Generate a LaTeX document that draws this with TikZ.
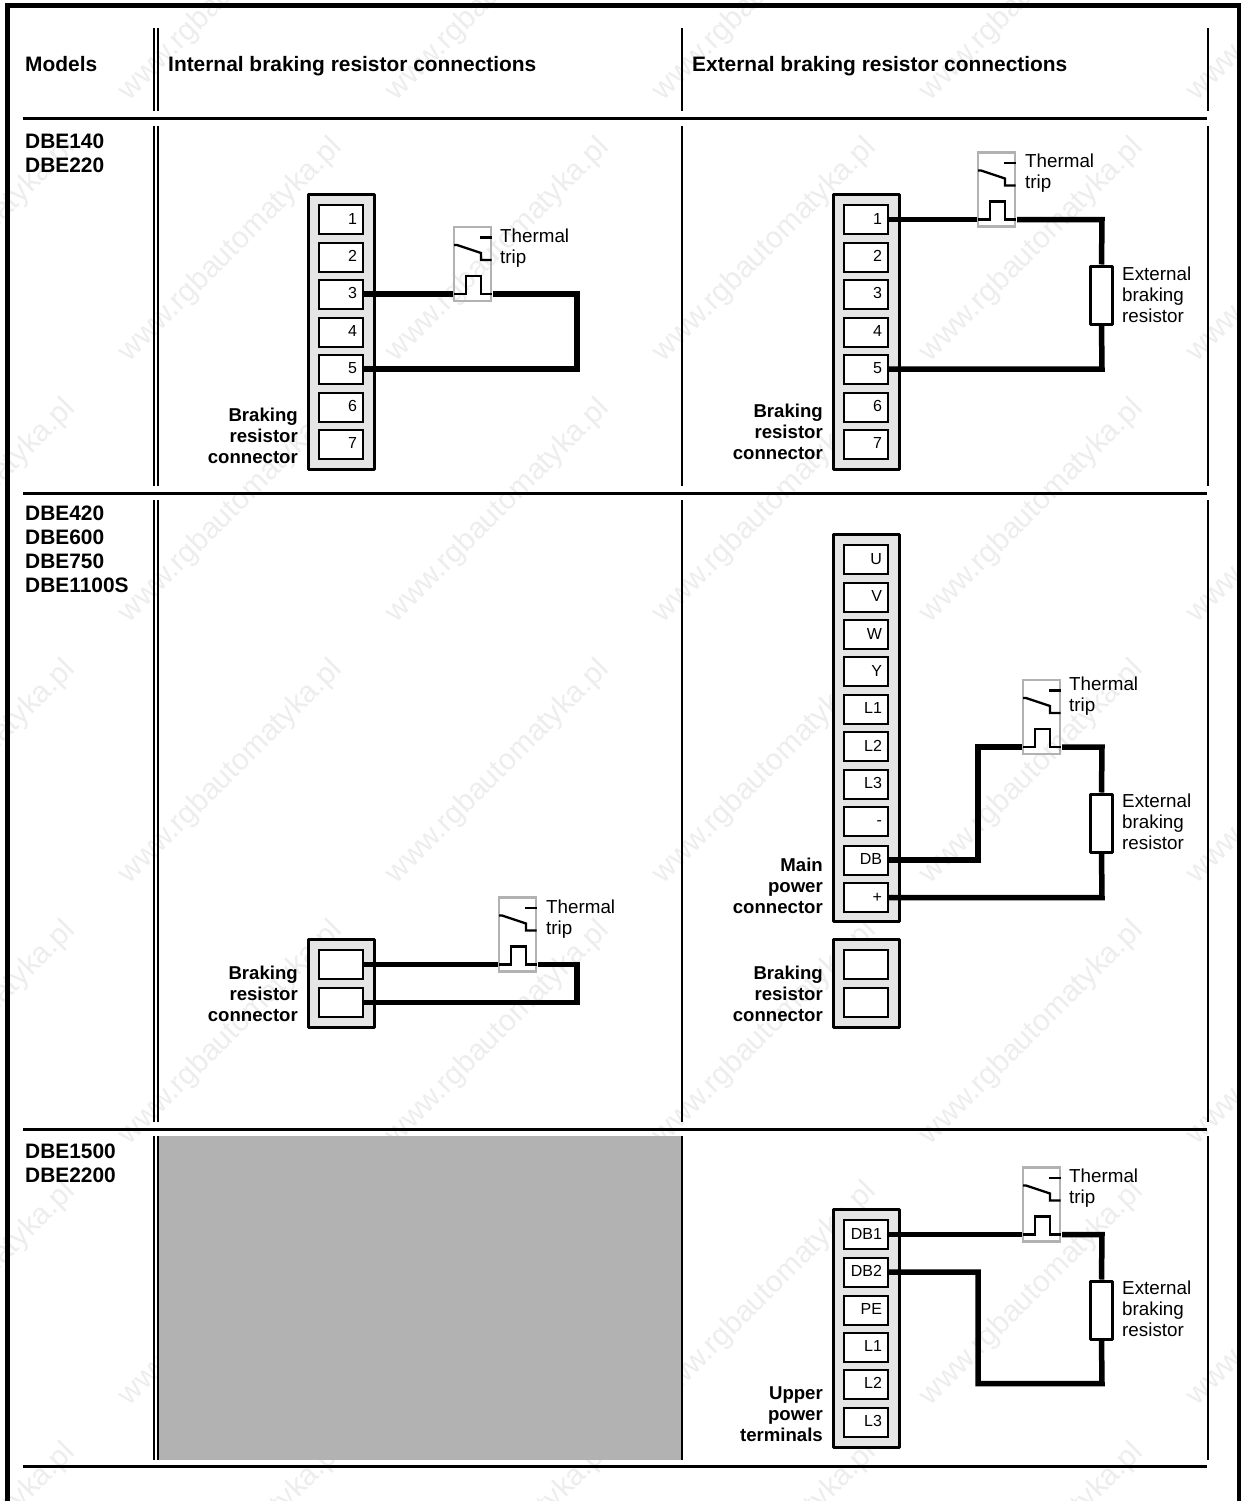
\documentclass[tikz,border=0pt]{standalone}
\usepackage{fontspec}
\setmainfont{Liberation Sans}
\definecolor{watermark}{gray}{0.93}
\definecolor{connfill}{gray}{0.9}
\definecolor{tripgrey}{gray}{0.7}
\definecolor{panelgrey}{gray}{0.7}
\tikzset{
  pics/thermal trip/.style={code={
    \node[trip node] (-box) at (19.5,38) {};
    \coordinate (-in) at (0,68);
    \coordinate (-out) at (40,68);
    \draw[contact] (27,11.5) -- (38.5,11.5);
    \draw[contact] (1,19) -- (4,19) -- (28,27) -- (28,34) -- (38.5,34);
    \draw[contact] (1,68) -- (13,68) -- (13,50) -- (28,50) -- (28,68) -- (38.5,68);
  }}
}

\begin{document}
\begin{tikzpicture}[x=1pt,y=-1pt,inner sep=0pt,
                    frame/.style={line width=5pt},
                    rule/.style={line width=3pt},
                    column/.style={line width=2pt},
                    wire/.style={line width=5.5pt},
                    contact/.style={line width=2.3pt},
                    conn node/.style={draw,line width=3pt,line join=round,fill=connfill,minimum width=66pt},
                    term node/.style={draw,line width=2pt,fill=white,minimum height=29pt,text width=32pt,
                                      text height=11pt,text depth=2pt,
                                      inner xsep=6pt,align=right,font=\fontsize{16pt}{18pt}\selectfont},
                    trip node/.style={draw=tripgrey,line width=2.5pt,minimum width=37pt,minimum height=74pt},
                    res node/.style={draw,line width=3pt,line join=round,fill=white,minimum width=22pt,minimum height=58pt},
                    head node/.style={anchor=base west,font=\fontsize{20.9pt}{24pt}\selectfont\bfseries},
                    model node/.style={anchor=north west,align=left,font=\fontsize{20.9pt}{24pt}\selectfont\bfseries},
                    conn label/.style={anchor=east,align=right,font=\fontsize{18.6pt}{21pt}\selectfont\bfseries},
                    part label/.style={anchor=west,align=left,font=\fontsize{18.8pt}{21pt}\selectfont},
                    mark node/.style={rotate=45,text=watermark,font=\fontsize{30pt}{30pt}\selectfont}]

  \useasboundingbox (0,0) rectangle (1240,1501);

  % watermark
  \begin{scope}
    \clip (0,0) rectangle (1240,1501);
    \foreach \cx in {-36,231,498,765,1032,1299}
      \foreach \cy in {-11,250,511,772,1033,1294,1555}
        \node[mark node] (w\cx\cy) at (\cx,\cy) {www.rgbautomatyka.pl};
  \end{scope}

  \fill[panelgrey] (159,1136) rectangle (682,1460);

  % table
  \draw[frame] (7.5,1501) -- (7.5,5.5) -- (1239,5.5) -- (1239,1501);
  \foreach \ry in {118.5,493,1129,1466}
    \draw[rule] (23,\ry) -- (1207,\ry);
  \foreach \ya/\yb in {28/111,126/486,500/1122,1136/1460} {
    \draw[column] (154.2,\ya) -- (154.2,\yb);
    \draw[column] (158,\ya) -- (158,\yb);
    \draw[column] (682,\ya) -- (682,\yb);
    \draw[column] (1207.5,\ya) -- (1207.5,\yb);
  }

  \node[head node] (hmodels) at (25,72) {Models};
  \node[head node] (hint) at (168,72) {Internal braking resistor connections};
  \node[head node] (hext) at (692,72) {External braking resistor connections};

  \node[model node] (m1) at (25,133.5) {DBE140\\DBE220};
  \node[model node] (m2) at (25,505.5) {DBE420\\DBE600\\DBE750\\DBE1100S};
  \node[model node] (m3) at (25,1143.5) {DBE1500\\DBE2200};

  % DBE140, internal
  \node[conn node,minimum height=275pt] (ca) at (341.5,332) {};
  \foreach \n/\y in {1/219.5,2/257,3/294,4/332,5/369,6/407,7/444}
    \node[term node] (a\n) at (341,\y) {\n};
  \pic (tripa) at (453,226) {thermal trip};
  \coordinate (ca1) at (577,294);
  \coordinate (ca2) at (577,369);
  \draw[wire] (a3.east) -- (tripa-in);
  \draw[wire] (tripa-out) -- (ca1) -- (ca2) -- (a5.east);
  \node[part label] (la) at (500,248) {Thermal\\trip};
  \node[conn label] (lca) at (298,436) {Braking\\resistor\\connector};

  % DBE140, external
  \node[conn node,minimum height=275pt] (cb) at (866.5,332) {};
  \foreach \n/\y in {1/219.5,2/257,3/294,4/332,5/369,6/407,7/444}
    \node[term node] (b\n) at (866,\y) {\n};
  \pic (tripb) at (977,151.5) {thermal trip};
  \node[res node] (resb) at (1101.5,295) {};
  \coordinate (cb1) at (1102,219.5);
  \coordinate (cb2) at (1102,369);
  \draw[wire] (b1.east) -- (tripb-in);
  \draw[wire] (tripb-out) -- (cb1) -- (resb.north);
  \draw[wire] (resb.south) -- (cb2) -- (b5.east);
  \node[part label] (lb) at (1025,173) {Thermal\\trip};
  \node[part label] (lrb) at (1122,294.5) {External\\braking\\resistor};
  \node[conn label] (lcb) at (823,432) {Braking\\resistor\\connector};

  % DBE420, internal
  \node[conn node,minimum height=88pt] (cc) at (341.5,983.5) {};
  \node[term node] (c1) at (341,964.5) {};
  \node[term node] (c2) at (341,1002.5) {};
  \pic (tripc) at (498,896.5) {thermal trip};
  \coordinate (cc1) at (577,964.5);
  \coordinate (cc2) at (577,1002.5);
  \draw[wire] (c1.east) -- (tripc-in);
  \draw[wire] (tripc-out) -- (cc1) -- (cc2) -- (c2.east);
  \node[part label] (lc) at (546,919) {Thermal\\trip};
  \node[conn label] (lcc) at (298,994) {Braking\\resistor\\connector};

  % DBE420, external
  \node[conn node,minimum height=387pt] (cd) at (866.5,728) {};
  \foreach \n/\l/\y in {1/U/559.5,2/V/597,3/W/634.5,4/Y/671.5,5/L1/709,6/L2/746.5,7/L3/784,
                        8/{-\hspace{6pt}}/821,9/DB/860,10/{+\hspace{8pt}}/897.5}
    \node[term node] (d\n) at (866,\y) {\l};
  \pic (tripd) at (1022,679) {thermal trip};
  \node[res node] (resd) at (1101.5,823) {};
  \coordinate (cd1) at (978,860);
  \coordinate (cd2) at (978,747);
  \coordinate (cd3) at (1102,747);
  \coordinate (cd4) at (1102,897.5);
  \draw[wire] (d9.east) -- (cd1) -- (cd2) -- (tripd-in);
  \draw[wire] (tripd-out) -- (cd3) -- (resd.north);
  \draw[wire] (resd.south) -- (cd4) -- (d10.east);
  \node[part label] (ld) at (1069,696.5) {Thermal\\trip};
  \node[part label] (lrd) at (1122,822) {External\\braking\\resistor};
  \node[conn label] (lcd) at (823,886) {Main\\power\\connector};

  \node[conn node,minimum height=88pt] (ce) at (866.5,983.5) {};
  \node[term node] (e1) at (866,964.5) {};
  \node[term node] (e2) at (866,1002.5) {};
  \node[conn label] (lce) at (823,994) {Braking\\resistor\\connector};

  % DBE1500, external
  \node[conn node,minimum height=238pt] (cf) at (866.5,1328) {};
  \foreach \n/\l/\y in {1/DB1/1234.5,2/DB2/1272,3/PE/1310,4/L1/1347,5/L2/1384,6/L3/1422}
    \node[term node] (f\n) at (866,\y) {\l};
  \pic (tripf) at (1022,1166.5) {thermal trip};
  \node[res node] (resf) at (1101.5,1310) {};
  \coordinate (cf1) at (1102,1234.5);
  \coordinate (cf2) at (1102,1383.5);
  \coordinate (cf3) at (978,1383.5);
  \coordinate (cf4) at (978,1272);
  \draw[wire] (f1.east) -- (tripf-in);
  \draw[wire] (tripf-out) -- (cf1) -- (resf.north);
  \draw[wire] (resf.south) -- (cf2) -- (cf3) -- (cf4) -- (f2.east);
  \node[part label] (lf) at (1069,1188) {Thermal\\trip};
  \node[part label] (lrf) at (1122,1309) {External\\braking\\resistor};
  \node[conn label] (lcf) at (823,1414) {Upper\\power\\terminals};

\end{tikzpicture}
\end{document}
